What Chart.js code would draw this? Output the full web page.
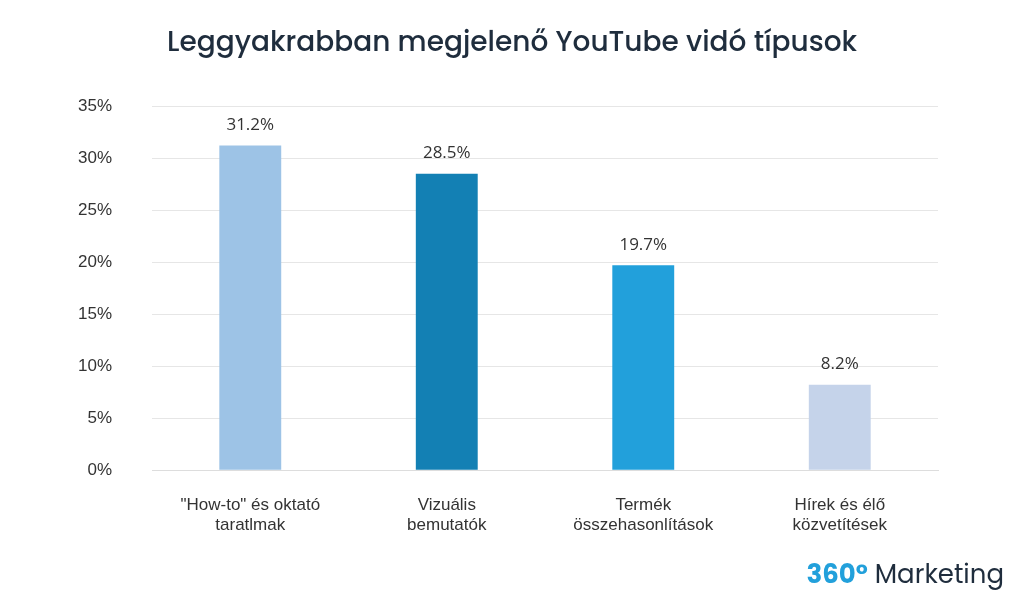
<!DOCTYPE html>
<html><head><meta charset="utf-8">
<script src="https://cdn.jsdelivr.net/npm/chart.js@4"></script>
<style>
html,body{margin:0;padding:0;background:#fff;}
#wrap{position:relative;width:1024px;height:608px;font-family:Poppins,"Open Sans",sans-serif;}
#title{position:absolute;top:21px;left:0;width:1024px;text-align:center;font-size:28px;font-weight:500;color:#1f2d3d;}
#logo{position:absolute;right:20px;bottom:14px;font-size:26px;color:#1f2d3d;}
#logo b{color:#22A0DB;}
canvas{position:absolute;left:0;top:0;}
</style></head><body>
<div id="wrap">
<canvas id="c" width="1024" height="608"></canvas>
<div id="title">Leggyakrabban megjelenő YouTube vidó típusok</div>
<div id="logo"><b>360°</b> Marketing</div>
</div>
<script>
const categories=[['"How-to" és oktató','taratlmak'],['Vizuális','bemutatók'],['Termék','összehasonlítások'],['Hírek és élő','közvetítések']];
const values=[31.2,28.5,19.7,8.2];
const colors=['#9DC3E6','#1380B4','#22A0DB','#C5D3EA'];
const labelsPlugin={id:'lbl',afterDatasetsDraw(ch){const ctx=ch.ctx;const m=ch.getDatasetMeta(0);ctx.save();ctx.font='17px "Open Sans",sans-serif';ctx.fillStyle='#333';ctx.textAlign='center';ctx.textBaseline='bottom';m.data.forEach((b,i)=>ctx.fillText(values[i].toFixed(1)+'%',b.x,b.y-12));ctx.restore();}};
new Chart(document.getElementById('c'),{type:'bar',
data:{labels:categories,datasets:[{data:values,backgroundColor:colors,barPercentage:0.63,categoryPercentage:0.5}]},
options:{responsive:false,animation:false,
layout:{padding:{left:38,right:86,top:106,bottom:55}},
plugins:{legend:{display:false},tooltip:{enabled:false}},
scales:{y:{min:0,max:35,ticks:{stepSize:5,callback:v=>v+'%',color:'#333',font:{size:17},padding:40},grid:{color:'#e6e6e6',drawTicks:false},border:{display:false}},
x:{ticks:{color:'#333',font:{size:17},padding:17},grid:{display:false},border:{color:'#ddd'}}}}
,plugins:[labelsPlugin]});
</script>
</body></html>
